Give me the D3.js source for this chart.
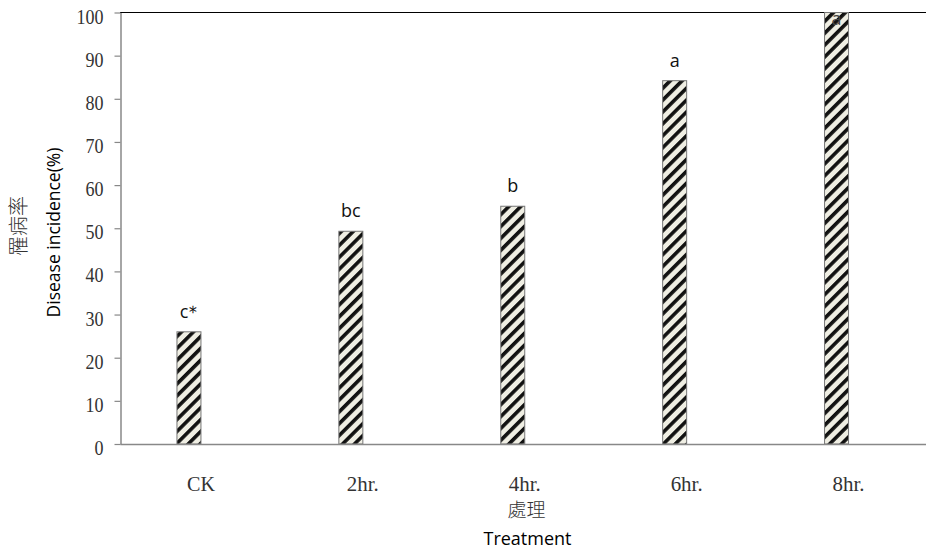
<!DOCTYPE html>
<html>
<head>
<meta charset="utf-8">
<script src="https://cdn.jsdelivr.net/npm/d3@7"></script>
<style>
  html, body { margin: 0; padding: 0; background: #fff; }
  svg { display: block; }
</style>
</head>
<body>
<div id="chart"></div>
<script>
const categories = ["CK", "2hr.", "4hr.", "6hr.", "8hr."];
const values = [26, 49.3, 55.1, 84.2, 100];
const letters = ["c＊", "bc", "b", "a", "a"];
const yTicks = [0, 10, 20, 30, 40, 50, 60, 70, 80, 90, 100];
const yTitleZh = "罹病率";
const yTitleEn = "Disease incidence(%)";
const xTitleZh = "處理";
const xTitleEn = "Treatment";

(function () {
const W = 926, H = 550;
const plotLeft = 120, plotRight = 929.5, plotTop = 12.5, plotBottom = 444;

const svg = d3.select("#chart").append("svg")
  .attr("width", W).attr("height", H);

const defs = svg.append("defs");
const P = 8.4;
const pat = defs.append("pattern")
  .attr("id", "hatch")
  .attr("patternUnits", "userSpaceOnUse")
  .attr("width", P).attr("height", P)
  .attr("patternTransform", "rotate(45)");
pat.append("rect").attr("width", P).attr("height", P).attr("fill", "#efeee3");
pat.append("rect").attr("width", 3.6).attr("height", P).attr("fill", "#111");

const x = d3.scaleBand().domain(categories).range([plotLeft, plotRight]).padding(0);
const y = d3.scaleLinear().domain([0, 100]).range([plotBottom, plotTop]);
const barW = 24;

// top border
svg.append("line")
  .attr("x1", plotLeft).attr("x2", W)
  .attr("y1", y(100)).attr("y2", y(100))
  .attr("stroke", "#000").attr("stroke-width", 1.2);

// bars
svg.selectAll("rect.bar").data(values).enter().append("rect")
  .attr("class", "bar")
  .attr("x", (d, i) => x(categories[i]) + x.bandwidth() / 2 - barW)
  .attr("y", d => y(d))
  .attr("width", barW)
  .attr("height", d => y(0) - y(d))
  .attr("fill", "url(#hatch)")
  .attr("stroke", "#777").attr("stroke-width", 1);

// left axis
const yAxis = svg.append("g")
  .attr("transform", `translate(${plotLeft + 0.5},0)`)
  .call(d3.axisLeft(y).tickValues(yTicks).tickSize(6).tickSizeOuter(0).tickFormat(d3.format("d")));
yAxis.select(".domain").attr("stroke", "#888").attr("stroke-width", 1.5);
yAxis.selectAll(".tick line").attr("stroke", "#888").attr("stroke-width", 1.2);
yAxis.selectAll(".tick text")
  .attr("x", -17).attr("dy", null).attr("y", 10.5)
  .attr("fill", "#333")
  .style("font-family", "'Liberation Serif', 'DejaVu Serif', serif")
  .style("font-size", "21px")
  .attr("textLength", d => String(d).length * 9)
  .attr("lengthAdjust", "spacingAndGlyphs");

// bottom axis
const xAxis = svg.append("g")
  .attr("transform", `translate(0,${plotBottom})`)
  .call(d3.axisBottom(x).tickSize(0).tickSizeOuter(0));
xAxis.select(".domain").attr("stroke", "#888").attr("stroke-width", 1.5);
xAxis.selectAll(".tick text")
  .attr("y", 47).attr("dy", null)
  .attr("fill", "#333")
  .style("font-family", "'Liberation Serif', 'DejaVu Serif', serif")
  .style("font-size", "21px")
  .attr("textLength", d => d === "CK" ? 28 : 32)
  .attr("lengthAdjust", "spacingAndGlyphs");

// letter labels
svg.selectAll("text.sig").data(values).enter().append("text")
  .attr("class", "sig")
  .attr("x", (d, i) => x(categories[i]) + x.bandwidth() / 2 - barW / 2)
  .attr("y", d => Math.max(y(d) - 14, 25))
  .attr("text-anchor", "middle")
  .attr("fill", (d, i) => i === values.length - 1 ? "#444" : "#111")
  .style("font-family", "'Open Sans', 'Noto Sans', sans-serif")
  .style("font-size", "18px")
  .style("letter-spacing", (d, i) => letters[i].includes("＊") ? "-4px" : null)
  .text((d, i) => letters[i]);

// y titles
svg.append("text")
  .attr("transform", `translate(26,226) rotate(-90)`)
  .attr("text-anchor", "middle")
  .attr("fill", "#333")
  .style("font-family", "'Noto Sans CJK TC', sans-serif")
  .style("font-weight", 300)
  .style("font-size", "20px")
  .text(yTitleZh);

svg.append("text")
  .attr("transform", `translate(60,232.5) rotate(-90)`)
  .attr("text-anchor", "middle")
  .attr("fill", "#000")
  .style("font-family", "'Open Sans', 'Noto Sans', sans-serif")
  .style("font-size", "17.5px")
  .text(yTitleEn);

// x titles
svg.append("text")
  .attr("x", 526.5).attr("y", 517)
  .attr("text-anchor", "middle")
  .attr("fill", "#333")
  .style("font-family", "'Noto Sans CJK TC', sans-serif")
  .style("font-weight", 300)
  .style("font-size", "19px")
  .text(xTitleZh);

svg.append("text")
  .attr("x", 527.5).attr("y", 545)
  .attr("text-anchor", "middle")
  .attr("fill", "#000")
  .style("font-family", "'Open Sans', 'Noto Sans', sans-serif")
  .style("font-size", "18px")
  .text(xTitleEn);
})();
</script>
</body>
</html>
